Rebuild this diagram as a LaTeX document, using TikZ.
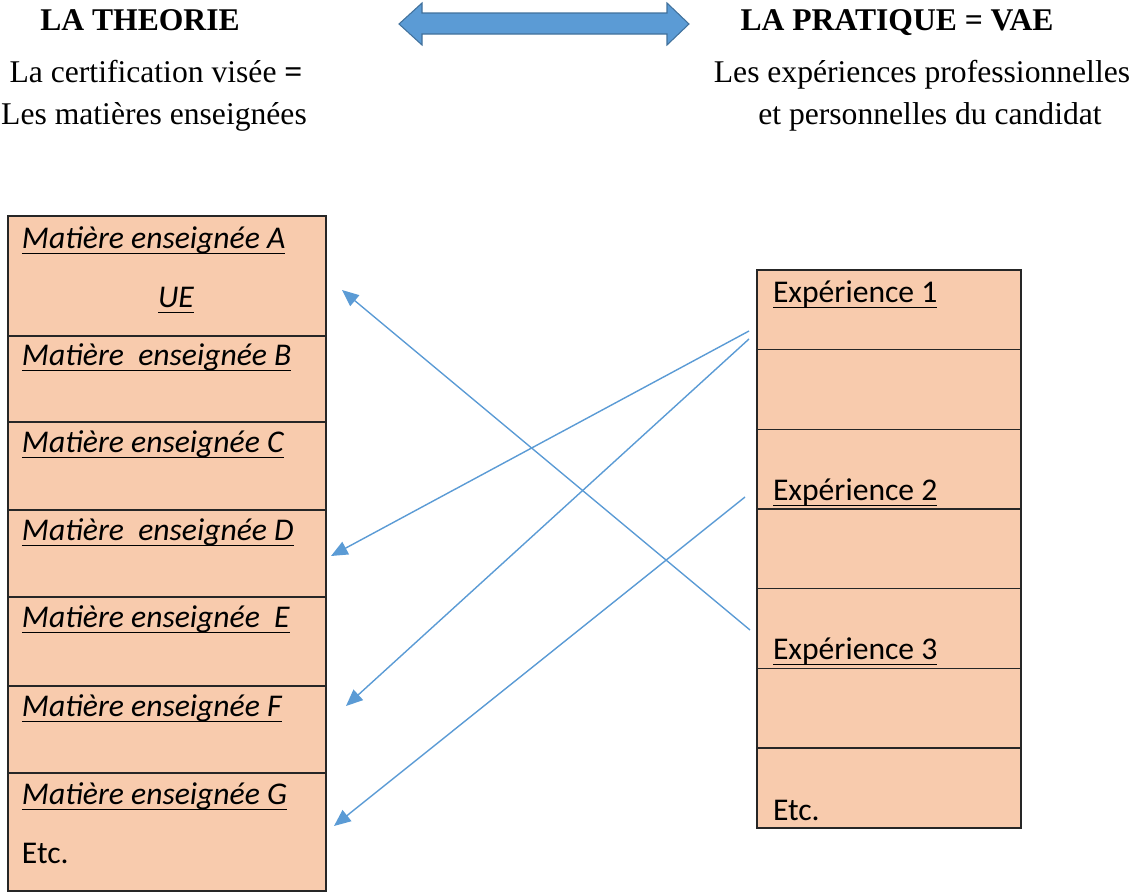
\documentclass[tikz,border=0pt]{standalone}
\usepackage{fontspec}
\setmainfont{Liberation Serif}
\newfontfamily\calibri{Carlito}
\usetikzlibrary{positioning,arrows.meta}
\definecolor{peach}{RGB}{248,203,173}
\definecolor{linkblue}{RGB}{91,155,213}
\definecolor{linkedge}{RGB}{65,113,156}
\newcommand\ulx[1]{\underline{\smash{#1}\rule[-1.5pt]{0pt}{0pt}}}

\begin{document}
\begin{tikzpicture}[x=0.02cm,y=-0.02cm,
  every node/.style={inner sep=0pt, outer sep=0pt},
  head/.style={anchor=base, font=\fontsize{18}{22}\selectfont\bfseries},
  sub/.style={anchor=base, font=\fontsize{18}{22}\selectfont},
  mcell/.style={fill=peach, minimum width=6.36cm},
  ecell/.style={fill=peach, minimum width=5.28cm, minimum height=1.594cm},
  cellline/.style={draw=black!85, line width=0.85pt},
  mtext/.style={anchor=base west, font=\fontsize{18}{22}\calibri\itshape},
  etext/.style={anchor=base west, font=\fontsize{18}{22}\calibri},
  link/.style={linkblue, line width=0.8pt, -{Triangle[length=9.5pt,width=8pt]}}]
  \useasboundingbox (0,0) rectangle (1134,896);

  % headings
  \node[head] (theorie) at (140,30) {LA THEORIE};
  \node[head] (pratique) at (897,30) {LA PRATIQUE = VAE};
  \filldraw[fill=linkblue, draw=linkedge, line width=0.6pt]
    (399,24) -- (422,3) -- (422,13) -- (667,13) -- (667,3) -- (689,24)
    -- (667,45) -- (667,34) -- (422,34) -- (422,45) -- cycle;
  \node[sub] (cert) at (156,82) {La certification visée \textbf{=}};
  \node[sub] (mat) at (154,124) {Les matières enseignées};
  \node[sub] (exp) at (922,82) {Les expériences professionnelles};
  \node[sub] (pers) at (930,124) {et personnelles du candidat};

  % la theorie
  \node[mcell, minimum height=2.40cm, anchor=north west] (ma) at (8,216) {};
  \node[mcell, minimum height=1.72cm, below=0pt of ma] (mb) {};
  \node[mcell, minimum height=1.76cm, below=0pt of mb] (mc) {};
  \node[mcell, minimum height=1.74cm, below=0pt of mc] (md) {};
  \node[mcell, minimum height=1.78cm, below=0pt of md] (me) {};
  \node[mcell, minimum height=1.74cm, below=0pt of me] (mf) {};
  \node[mcell, minimum height=2.36cm, below=0pt of mf] (mg) {};

  % la pratique
  \node[ecell, anchor=north west] (e1) at (757,270) {};
  \node[ecell, below=0pt of e1] (e1b) {};
  \node[ecell, below=0pt of e1b] (e2) {};
  \node[ecell, below=0pt of e2] (e2b) {};
  \node[ecell, below=0pt of e2b] (e3) {};
  \node[ecell, below=0pt of e3] (e3b) {};
  \node[ecell, below=0pt of e3b] (eetc) {};

  \foreach \c in {ma,mb,mc,md,me,mf,mg,e1,e1b,e2,e2b,e3,e3b,eetc}
    \draw[cellline] (\c.north west) rectangle (\c.south east);

  \node[mtext] (ta) at (22,248) {\ulx{Matière enseignée A}};
  \node[mtext] (tue) at (158,307) {\ulx{UE}};
  \node[mtext] (tb) at (22,365) {\ulx{Matière\ \ enseignée B}};
  \node[mtext] (tc) at (22,452) {\ulx{Matière enseignée C}};
  \node[mtext] (td) at (22,540) {\ulx{Matière\ \ enseignée D}};
  \node[mtext] (te) at (22,627) {\ulx{Matière enseignée\ \ E}};
  \node[mtext] (tf) at (22,716) {\ulx{Matière enseignée F}};
  \node[mtext] (tg) at (22,804) {\ulx{Matière enseignée G}};
  \node[etext] (tetc) at (22,863) {Etc.};
  \node[etext] (x1) at (773,302) {\ulx{Expérience 1}};
  \node[etext] (x2) at (773,500) {\ulx{Expérience 2}};
  \node[etext] (x3) at (773,659) {\ulx{Expérience 3}};
  \node[etext] (xetc) at (773,820) {Etc.};

  % liens
  \coordinate (s1) at (750,630);
  \coordinate (s2) at (749,331);
  \coordinate (s3) at (749,339);
  \coordinate (s4) at (745,497);
  \coordinate (t1) at (342,290);
  \coordinate (t2) at (331,556);
  \coordinate (t3) at (346,706);
  \coordinate (t4) at (334,826);
  \draw[link] (s1) -- (t1);
  \draw[link] (s2) -- (t2);
  \draw[link] (s3) -- (t3);
  \draw[link] (s4) -- (t4);
\end{tikzpicture}
\end{document}
